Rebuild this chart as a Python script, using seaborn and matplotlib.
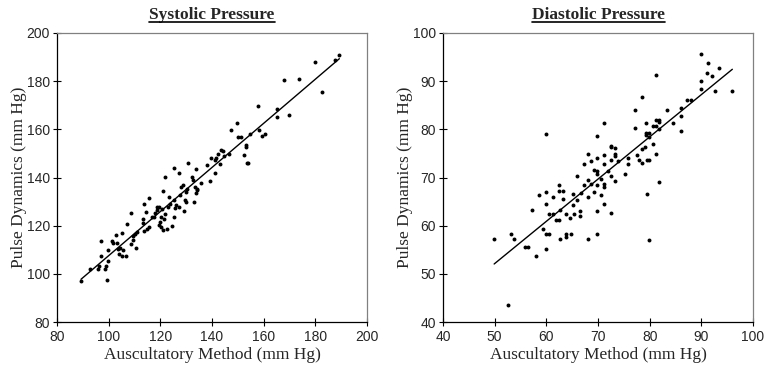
import numpy as np
import pandas as pd
import seaborn as sns
import matplotlib.pyplot as plt
from matplotlib import font_manager
from matplotlib.lines import Line2D

# Systolic pressure readings (mm Hg)
sys_ausc = [89.3, 92.8, 96.0, 96.4, 97.2, 97.2, 98.6, 99.1, 99.2, 99.9,
            99.9, 101.2, 101.8, 102.7, 103.2, 103.7, 104.1, 104.4, 105.0, 105.4,
            105.0, 106.6, 107.2, 108.5, 108.5, 109.3, 109.5, 110.2, 110.6, 111.1,
            113.2, 113.2, 113.8, 113.8, 114.5, 115.0, 115.7, 115.7, 116.6, 117.5,
            117.9, 118.6, 118.9, 119.5, 119.4, 119.9, 120.1, 120.3, 120.5, 120.9,
            121.2, 121.4, 121.9, 121.9, 122.5, 122.8, 123.2, 123.7, 124.5, 125.2,
            125.2, 125.4, 125.7, 126.1, 127.1, 127.1, 127.6, 128.1, 128.6, 129.2,
            129.4, 129.8, 129.9, 130.2, 130.6, 132.4, 132.8, 133.2, 133.3, 133.8,
            133.9, 134.1, 134.3, 135.9, 137.9, 139.2, 139.5, 141.3, 141.3, 141.4,
            142.5, 143.1, 143.4, 144.1, 144.6, 146.6, 147.2, 149.8, 149.9, 151.2,
            152.5, 153.2, 153.3, 153.4, 154.1, 154.6, 157.9, 158.3, 159.2, 160.5,
            165.2, 165.3, 167.9, 169.9, 173.8, 179.9, 182.6, 187.7, 189.3]
sys_pulse = [97.1, 102.2, 102.2, 103.2, 107.5, 113.7, 101.8, 103.3, 97.5, 105.4,
             109.8, 113.7, 112.9, 116.1, 112.6, 110.5, 108.4, 110.8, 116.8, 110.1,
             107.5, 107.5, 120.5, 125.1, 112.4, 114.0, 115.7, 116.5, 110.7, 117.5,
             122.6, 121.2, 117.7, 129.0, 125.8, 118.8, 131.3, 119.3, 123.4, 123.7,
             125.1, 126.5, 127.6, 127.9, 120.2, 121.6, 119.5, 123.7, 126.8, 118.2,
             134.5, 122.6, 140.3, 124.8, 118.8, 127.9, 132.0, 128.8, 120.0, 143.8,
             123.7, 130.5, 127.2, 128.4, 142.0, 127.9, 132.7, 136.2, 136.9, 126.2,
             130.6, 133.9, 129.9, 135.4, 146.2, 140.3, 138.9, 129.7, 136.2, 133.4,
             143.7, 135.4, 134.8, 137.6, 145.2, 138.5, 148.0, 142.0, 147.3, 148.0,
             149.8, 145.6, 151.4, 151.0, 149.0, 149.6, 159.8, 162.8, 157.0, 156.7,
             149.4, 152.8, 153.5, 145.9, 146.2, 158.1, 169.8, 159.8, 157.3, 158.0,
             168.6, 165.3, 180.3, 166.0, 181.1, 187.8, 175.3, 188.6, 191.0]

# Diastolic pressure readings (mm Hg)
dia_ausc = [49.9, 52.6, 53.2, 53.8, 55.9, 56.5, 57.2, 58.0, 58.6, 59.3,
            59.9, 59.9, 59.9, 59.9, 59.9, 60.5, 60.6, 61.2, 61.2, 61.9,
            62.5, 62.5, 62.5, 62.7, 62.6, 63.2, 63.2, 63.9, 63.9, 63.9,
            64.5, 64.7, 65.2, 65.2, 65.3, 65.9, 65.9, 66.6, 66.6, 66.7,
            67.3, 67.3, 68.0, 68.0, 68.0, 68.0, 68.6, 68.6, 69.2, 69.3,
            69.9, 69.9, 69.9, 69.9, 69.9, 69.9, 69.9, 70.5, 70.6, 71.2,
            71.2, 71.2, 71.2, 71.2, 71.2, 71.9, 72.5, 72.5, 72.5, 72.5,
            72.5, 73.2, 73.2, 73.3, 73.2, 73.9, 75.2, 75.9, 75.9, 77.2,
            77.2, 77.5, 78.0, 78.5, 78.6, 78.6, 79.0, 79.3, 79.3, 79.3,
            79.5, 79.4, 79.9, 79.9, 79.9, 79.9, 80.6, 80.7, 81.2, 81.2,
            81.2, 81.3, 81.8, 81.9, 81.8, 81.9, 83.3, 84.5, 86.0, 86.0,
            86.0, 87.3, 88.0, 90.0, 90.0, 90.0, 91.0, 91.3, 92.0, 92.7,
            93.4, 96.0]
dia_pulse = [57.3, 43.6, 58.3, 57.3, 55.6, 55.6, 63.3, 53.6, 66.4, 59.3,
             79.1, 67.0, 64.6, 58.3, 55.2, 58.3, 62.4, 62.4, 66.0, 61.2,
             61.2, 68.4, 67.3, 63.2, 57.3, 67.3, 65.6, 62.4, 58.3, 57.6,
             61.6, 58.3, 64.3, 66.6, 62.4, 70.4, 65.4, 63.0, 62.0, 66.7,
             72.7, 68.4, 74.9, 69.4, 66.0, 57.3, 68.7, 73.4, 67.0, 71.6,
             78.7, 74.0, 71.3, 70.8, 68.5, 63.0, 58.3, 69.7, 66.4, 81.4,
             74.7, 72.7, 68.7, 68.0, 64.4, 71.3, 76.6, 76.3, 73.6, 70.4,
             62.6, 76.1, 74.9, 74.4, 69.3, 73.4, 70.7, 74.0, 72.7, 84.0,
             80.3, 74.7, 73.7, 86.7, 76.0, 73.0, 76.3, 81.4, 79.2, 78.8,
             66.6, 73.7, 73.7, 79.2, 78.4, 57.0, 80.6, 77.0, 91.3, 80.6,
             82.0, 74.9, 82.0, 81.5, 80.1, 69.0, 84.0, 81.3, 84.4, 82.7,
             79.7, 86.0, 86.0, 95.7, 90.0, 88.4, 91.7, 93.8, 91.0, 88.0,
             92.7, 88.0]

titles = ["Systolic Pressure", "Diastolic Pressure"]
x_label = "Auscultatory Method (mm Hg)"
y_label = "Pulse Dynamics (mm Hg)"
sys_ticks = [80, 100, 120, 140, 160, 180, 200]
dia_ticks = [40, 50, 60, 70, 80, 90, 100]

sns.set_style("ticks")
plt.rcParams["font.family"] = ["Liberation Serif", "DejaVu Serif"]

# narrow sans for the tick numbers, if there is one
installed = {f.name for f in font_manager.fontManager.ttflist}
tick_font = "Liberation Sans Narrow" if "Liberation Sans Narrow" in installed else "Liberation Sans"
tick_stretch = "normal" if tick_font == "Liberation Sans Narrow" else "condensed"

fig = plt.figure(figsize=(7.64, 3.73), dpi=100)
ax1 = fig.add_axes([57 / 764, 51 / 373, 310 / 764, 289 / 373])
ax2 = fig.add_axes([443 / 764, 51 / 373, 310 / 764, 289 / 373])

panels = [
    (ax1, pd.DataFrame({"ausc": sys_ausc, "pulse": sys_pulse}), sys_ticks),
    (ax2, pd.DataFrame({"ausc": dia_ausc, "pulse": dia_pulse}), dia_ticks),
]

for (ax, df, ticks), title in zip(panels, titles):
    sns.regplot(data=df, x="ausc", y="pulse", ax=ax, ci=None,
                scatter_kws={"s": 8, "color": "black", "linewidths": 0, "alpha": 1},
                line_kws={"color": "black", "linewidth": 1.0})
    ax.set_xlim(ticks[0], ticks[-1])
    ax.set_ylim(ticks[0], ticks[-1])
    labels = [str(t) for t in ticks]
    ax.set_xticks(ticks, labels=labels, fontfamily=tick_font, fontstretch=tick_stretch)
    ax.set_yticks(ticks, labels=labels, fontfamily=tick_font, fontstretch=tick_stretch)
    ax.tick_params(direction="inout", length=6, width=0.8, color="black",
                   labelsize=10, pad=3)
    ax.tick_params(axis="y", pad=2)
    for side in ["left", "bottom"]:
        ax.spines[side].set_color("black")
        ax.spines[side].set_linewidth(0.9)
    for side in ["top", "right"]:
        ax.spines[side].set_visible(True)
        ax.spines[side].set_color("#808080")
        ax.spines[side].set_linewidth(0.9)
    ax.set_xlabel(x_label, fontsize=12.5, labelpad=2)
    ax.set_ylabel(y_label, fontsize=12.5, labelpad=0)
    ax.set_title(title, fontsize=12.5, fontweight="bold", pad=10)

# underline the titles
fig.canvas.draw()
renderer = fig.canvas.get_renderer()
inv = fig.transFigure.inverted()
for ax in [ax1, ax2]:
    bb = ax.title.get_window_extent(renderer)
    (x0, y0), (x1, _) = inv.transform([(bb.x0, bb.y0 + 1.5), (bb.x1, bb.y0)])
    fig.add_artist(Line2D([x0, x1], [y0, y0], transform=fig.transFigure,
                          color="black", linewidth=1.2))

fig.savefig("out.png", dpi=100)
